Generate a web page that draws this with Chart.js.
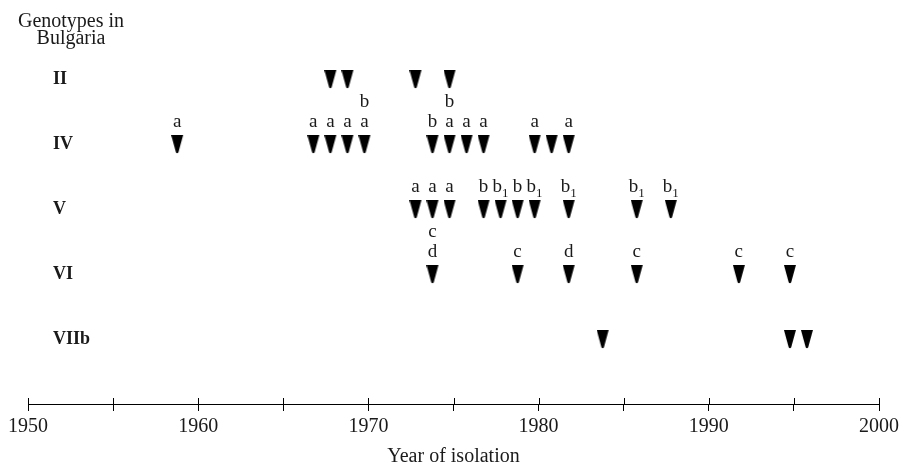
<!DOCTYPE html>
<html lang="en">
<head>
<meta charset="UTF-8">
<title>Genotypes in Bulgaria by year of isolation</title>
<script src="https://cdn.jsdelivr.net/npm/chart.js"></script>
<style>
  body { margin: 0; padding: 0; background: #fff; }
  #wrap { width: 904px; height: 469px; }
</style>
</head>
<body>
<div id="wrap"><canvas id="myChart" width="904" height="469"></canvas></div>
<script>
  // rows, top to bottom
  const genotypes = ['II', 'IV', 'V', 'VI', 'VIIb'];

  // years of isolation per genotype, letters above each marker
  // ("c/d" = c stacked over d, "b_1" = b with subscript 1)
  const yearsII = [1968, 1969, 1973, 1975];
  const lettersII = ['', '', '', ''];

  const yearsIV = [1959, 1967, 1968, 1969, 1970, 1974, 1975, 1976, 1977, 1980, 1981, 1982];
  const lettersIV = ['a', 'a', 'a', 'a', 'b/a', 'b', 'b/a', 'a', 'a', 'a', '', 'a'];

  const yearsV = [1973, 1974, 1975, 1977, 1978, 1979, 1980, 1982, 1986, 1988];
  const lettersV = ['a', 'a', 'a', 'b', 'b_1', 'b', 'b_1', 'b_1', 'b_1', 'b_1'];

  const yearsVI = [1974, 1979, 1982, 1986, 1992, 1995];
  const lettersVI = ['c/d', 'c', 'd', 'c', 'c', 'c'];

  const yearsVIIb = [1984, 1995, 1996];
  const lettersVIIb = ['', '', ''];

  const rowYears = [yearsII, yearsIV, yearsV, yearsVI, yearsVIIb];
  const rowLetters = [lettersII, lettersIV, lettersV, lettersVI, lettersVIIb];

  const SERIF = '"Liberation Serif", "Times New Roman", serif';
  const INK = '#1a1a1a';
  const MARK_SHIFT = -4; // the printed triangles sit a little left of the year

  // narrow downward triangle used as the point style
  function makeMarker() {
    const c = document.createElement('canvas');
    c.width = 20;
    c.height = 20;
    const g = c.getContext('2d');
    const cx = 10 + MARK_SHIFT;
    g.fillStyle = '#000';
    g.beginPath();
    g.moveTo(cx - 6, 1);
    g.lineTo(cx + 6, 1);
    g.lineTo(cx + 1.2, 18.5);
    g.quadraticCurveTo(cx, 20, cx - 1.2, 18.5);
    g.closePath();
    g.fill();
    return c;
  }
  const marker = makeMarker();

  function drawLetter(ctx, txt, cx, base) {
    const parts = txt.split('_');
    ctx.font = '19px ' + SERIF;
    const wMain = ctx.measureText(parts[0]).width;
    let wSub = 0;
    if (parts[1]) {
      ctx.font = '13px ' + SERIF;
      wSub = ctx.measureText(parts[1]).width;
    }
    const x0 = cx - (wMain + wSub) / 2;
    ctx.font = '19px ' + SERIF;
    ctx.fillText(parts[0], x0, base);
    if (parts[1]) {
      ctx.font = '13px ' + SERIF;
      ctx.fillText(parts[1], x0 + wMain, base + 5);
    }
  }

  const letterPlugin = {
    id: 'letters',
    afterDatasetsDraw(chart) {
      const ctx = chart.ctx;
      ctx.save();
      ctx.fillStyle = INK;
      ctx.textAlign = 'left';
      ctx.textBaseline = 'alphabetic';
      chart.data.datasets.forEach((ds, i) => {
        const meta = chart.getDatasetMeta(i);
        meta.data.forEach((pt, j) => {
          const txt = rowLetters[i][j];
          if (!txt) return;
          const lines = txt.split('/').reverse();
          lines.forEach((line, k) => {
            drawLetter(ctx, line, pt.x + MARK_SHIFT, pt.y - 17 - k * 20);
          });
        });
      });
      ctx.restore();
    }
  };

  // axis ticks in the figure cross the axis line
  const tickUp = {
    id: 'tickUp',
    afterDraw(chart) {
      const sc = chart.scales.x;
      const ctx = chart.ctx;
      ctx.save();
      ctx.strokeStyle = '#000';
      ctx.lineWidth = 1;
      ctx.beginPath();
      sc.ticks.forEach(t => {
        const px = Math.round(sc.getPixelForValue(t.value)) + 0.5;
        ctx.moveTo(px, sc.top - 6);
        ctx.lineTo(px, sc.top);
      });
      ctx.stroke();
      ctx.restore();
    }
  };

  const cornerTitle = {
    id: 'cornerTitle',
    afterDraw(chart) {
      const ctx = chart.ctx;
      ctx.save();
      ctx.font = '20px ' + SERIF;
      ctx.fillStyle = INK;
      ctx.textAlign = 'center';
      ctx.textBaseline = 'alphabetic';
      ctx.fillText('Genotypes in', 71, 27);
      ctx.fillText('Bulgaria', 71, 44);
      ctx.restore();
    }
  };

  const ctx = document.getElementById('myChart').getContext('2d');
  const chart = new Chart(ctx, {
    type: 'scatter',
    data: {
      datasets: genotypes.map((name, i) => ({
        label: name,
        data: rowYears[i].map(yr => ({ x: yr, y: genotypes.length - i })),
        pointStyle: marker,
        pointRadius: 10,
        clip: false
      }))
    },
    options: {
      responsive: false,
      animation: false,
      layout: { padding: { left: 28, right: 25, top: 14, bottom: 0 } },
      plugins: {
        legend: { display: false },
        tooltip: { enabled: false }
      },
      scales: {
        x: {
          type: 'linear',
          min: 1950,
          max: 2000,
          position: 'bottom',
          border: { display: true, color: '#000', width: 1 },
          grid: { drawOnChartArea: false, drawTicks: true, tickLength: 7, color: '#000', lineWidth: 1 },
          ticks: {
            stepSize: 5,
            autoSkip: false,
            maxRotation: 0,
            padding: 4,
            color: INK,
            font: { family: SERIF, size: 20 },
            callback: v => (v % 10 === 0 ? String(v) : '')
          },
          title: {
            display: true,
            text: 'Year of isolation',
            color: INK,
            font: { family: SERIF, size: 20 },
            padding: { top: 2, bottom: 0 }
          }
        },
        y: {
          type: 'linear',
          min: 0,
          max: 6,
          border: { display: false },
          grid: { display: false, drawTicks: false },
          // genotype names sit inside the plot, so the axis takes no room
          afterFit(scale) {
            scale.width = 0;
            scale.paddingTop = 0;
            scale.paddingBottom = 0;
          },
          ticks: {
            stepSize: 1,
            mirror: true,
            padding: 25,
            color: INK,
            font: { family: SERIF, size: 18, weight: 'bold' },
            callback: v => genotypes[genotypes.length - v] || ''
          }
        }
      }
    },
    plugins: [letterPlugin, tickUp, cornerTitle]
  });
</script>
</body>
</html>
